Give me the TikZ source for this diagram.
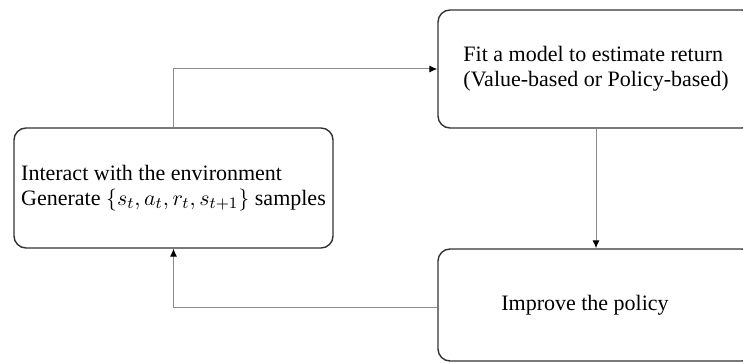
\documentclass[tikz,border=0pt]{standalone}
\usepackage{fontspec}
\setmainfont{Liberation Serif}
\usetikzlibrary{arrows.meta}

\begin{document}
\begin{tikzpicture}[x=0.5pt, y=-0.5pt, >={Latex[length=4pt,width=3.5pt,black]},
    stage/.style={draw=black!80, line width=0.7pt, rounded corners=6pt,
      font=\fontsize{11}{12.5}\selectfont, align=left},
    flow/.style={->, draw=black!45, line width=0.5pt}]
  \useasboundingbox (0,0) rectangle (743,363);
  \clip (0,0) rectangle (743,363);

  % the three stages of the loop
  \node[stage, minimum width=159.5pt, minimum height=60pt] (interact) at (173.5,188)
    {Interact with the environment\\Generate $\{s_t,a_t,r_t,s_{t+1}\}$ samples};
  \node[stage, minimum width=158pt, minimum height=59pt] (fit) at (596,69)
    {Fit a model to estimate return\\(Value-based or Policy-based)};
  \node[stage, minimum width=158pt, minimum height=56pt] (improve) at (596,305)
    {\hspace*{-11pt}Improve the policy};

  % connectors
  \draw[flow] (interact.north) |- (fit.west);
  \draw[flow] (fit.south) -- (improve.north);
  \draw[flow] ([yshift=-1pt]improve.west) -| (interact.south);
\end{tikzpicture}
\end{document}
